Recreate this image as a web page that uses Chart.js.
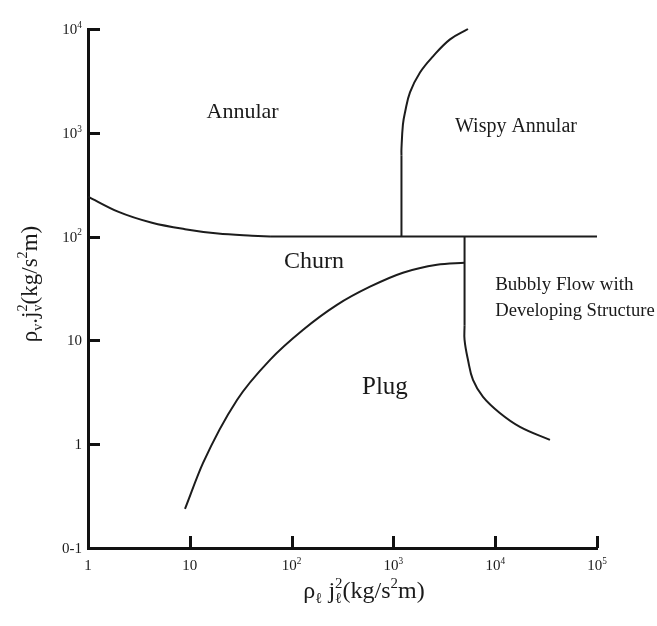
<!DOCTYPE html>
<html>
<head>
<meta charset="utf-8">
<script src="https://cdn.jsdelivr.net/npm/chart.js@4"></script>
<style>
  html, body { margin: 0; padding: 0; background: #fff; }
  #wrap { width: 657px; height: 626px; }
</style>
</head>
<body>
<div id="wrap"><canvas id="map" width="657" height="626"></canvas></div>
<script>
// --- flow regime boundaries ---
const annularChurnX = [1, 1.97, 4.25, 8.97, 18.9, 40.8, 61.4];
const annularChurnY = [243, 174, 136, 118, 107, 102, 100];

const churnTopX = [61.4, 100000];
const churnTopY = [100, 100];

const wispyStemX = [1200, 1200];
const wispyStemY = [100, 600];
const wispyX = [1200, 1200, 1240, 1300, 1455, 1825, 2450, 3600, 5400];
const wispyY = [600, 700, 1200, 1570, 2450, 3810, 5450, 7950, 10000];

const churnPlugX = [8.97, 13.5, 29.1, 61.4, 129, 279, 589, 1240, 2680, 5000];
const churnPlugY = [0.238, 0.66, 2.67, 6.5, 12.6, 22.0, 32.9, 44.9, 53.6, 56];

const bubblyStemX = [5000, 5000];
const bubblyStemY = [100, 14];
const bubblyX = [5000, 5000, 5400, 6050, 7590, 11100, 17500, 34500];
const bubblyY = [14, 10.1, 6.5, 4.17, 2.86, 2.0, 1.47, 1.1];

// --- axes ---
const xTicks = [1, 10, 100, 1000, 10000, 100000];
const xTickLabels = ['1', '10', '10^2', '10^3', '10^4', '10^5'];
const yTicks = [0.1, 1, 10, 100, 1000, 10000];
const yTickLabels = ['0-1', '1', '10', '10^2', '10^3', '10^4'];

// --- region names ---
const regionNames = ['Annular', 'Wispy Annular', 'Churn', 'Plug', 'Bubbly Flow with', 'Developing Structure'];
const regionX = [33, 16000, 166, 826, 10000, 10000];
const regionY = [1570, 1150, 57, 3.5, 34, 19.3];

const SERIF = "'Liberation Serif', 'Times New Roman', serif";
const LINE = '#1c1c1c';

const toPoints = (xs, ys) => xs.map((x, i) => ({ x, y: ys[i] }));

const curve = (xs, ys, tension, mode) => ({
    data: toPoints(xs, ys),
    showLine: true,
    borderColor: LINE,
    borderWidth: 2,
    pointRadius: 0,
    tension: tension,
    cubicInterpolationMode: mode || 'default',
    clip: 4,
});

// texte mit hoch-/tiefgestellten Teilen: [text, 'n'|'sub'|'sup'|'both', sup]
function richWidth(ctx, parts, size) {
    let w = 0;
    parts.forEach(p => {
        if (p[1] === 'n') { ctx.font = `${size}px ${SERIF}`; w += ctx.measureText(p[0]).width; }
        else if (p[1] === 'both') {
            ctx.font = `${size * 0.62}px ${SERIF}`;
            w += Math.max(ctx.measureText(p[0]).width, ctx.measureText(p[2]).width);
        } else { ctx.font = `${size * 0.62}px ${SERIF}`; w += ctx.measureText(p[0]).width; }
    });
    return w;
}

function drawRich(ctx, parts, x, y, size, align) {
    const w = richWidth(ctx, parts, size);
    let cx = align === 'center' ? x - w / 2 : align === 'right' ? x - w : x;
    ctx.textAlign = 'left';
    ctx.textBaseline = 'alphabetic';
    parts.forEach(p => {
        if (p[1] === 'n') {
            ctx.font = `${size}px ${SERIF}`;
            ctx.fillText(p[0], cx, y);
            cx += ctx.measureText(p[0]).width;
            return;
        }
        ctx.font = `${size * 0.62}px ${SERIF}`;
        if (p[1] === 'sup') {
            ctx.fillText(p[0], cx, y - size * 0.42);
            cx += ctx.measureText(p[0]).width;
        } else if (p[1] === 'sub') {
            ctx.fillText(p[0], cx, y + size * 0.22);
            cx += ctx.measureText(p[0]).width;
        } else {
            ctx.fillText(p[0], cx, y + size * 0.22);
            ctx.fillText(p[2], cx, y - size * 0.42);
            cx += Math.max(ctx.measureText(p[0]).width, ctx.measureText(p[2]).width);
        }
    });
}

const powerParts = label => {
    const [base, exp] = label.split('^');
    return exp ? [[base, 'n'], [exp, 'sup']] : [[base, 'n']];
};

const X_TITLE = [['ρ', 'n'], ['ℓ', 'sub'], [' j', 'n'], ['ℓ', 'both', '2'], ['(kg/s', 'n'], ['2', 'sup'], ['m)', 'n']];
const Y_TITLE = [['ρ', 'n'], ['v', 'sub'], ['.j', 'n'], ['v', 'both', '2'], ['(kg/s', 'n'], ['2', 'sup'], ['m)', 'n']];

const mapDecor = {
    id: 'mapDecor',
    afterDraw(chart) {
        const { ctx, scales: { x, y } } = chart;
        const left = x.left, bottom = y.bottom;
        ctx.save();
        ctx.fillStyle = '#1a1a1a';
        ctx.strokeStyle = '#111';
        ctx.lineWidth = 3;

        // nach innen zeigende Striche
        yTicks.forEach(v => {
            const py = Math.round(y.getPixelForValue(v)) + 0.5;
            ctx.beginPath(); ctx.moveTo(left, py); ctx.lineTo(left + 12, py); ctx.stroke();
        });
        xTicks.forEach(v => {
            const px = Math.round(x.getPixelForValue(v)) + 0.5;
            ctx.beginPath(); ctx.moveTo(px, bottom); ctx.lineTo(px, bottom - 12); ctx.stroke();
        });

        // Achsenbeschriftung
        yTicks.forEach((v, i) => {
            drawRich(ctx, powerParts(yTickLabels[i]), left - 6, y.getPixelForValue(v) + 5, 15, 'right');
        });
        xTicks.forEach((v, i) => {
            drawRich(ctx, powerParts(xTickLabels[i]), x.getPixelForValue(v), bottom + 22, 15, 'center');
        });

        // Gebietsnamen
        const sizes = [22, 20, 24, 25, 19, 18.6];
        regionNames.forEach((name, i) => {
            ctx.font = `${sizes[i]}px ${SERIF}`;
            ctx.textAlign = i >= 4 ? 'left' : 'center';
            ctx.textBaseline = 'middle';
            ctx.fillText(name, x.getPixelForValue(regionX[i]), y.getPixelForValue(regionY[i]));
        });

        // Titel
        drawRich(ctx, X_TITLE, 364, 598, 24, 'center');
        ctx.translate(37, 284);
        ctx.rotate(-Math.PI / 2);
        drawRich(ctx, Y_TITLE, 0, 0, 23, 'center');
        ctx.restore();
    }
};

const axisBase = {
    type: 'logarithmic',
    grid: { display: false, drawTicks: false, tickLength: 0 },
    ticks: { display: false },
    border: { display: true, color: '#111', width: 3 },
};

new Chart(document.getElementById('map'), {
    type: 'scatter',
    data: {
        datasets: [
            curve(annularChurnX, annularChurnY, 0.4, 'monotone'),
            curve(churnTopX, churnTopY, 0),
            curve(wispyStemX, wispyStemY, 0),
            curve(wispyX, wispyY, 0.4),
            curve(churnPlugX, churnPlugY, 0.4, 'monotone'),
            curve(bubblyStemX, bubblyStemY, 0),
            curve(bubblyX, bubblyY, 0.4),
        ]
    },
    options: {
        responsive: false,
        animation: false,
        layout: { padding: { left: 88, right: 60, top: 29, bottom: 78 } },
        scales: {
            x: { ...axisBase, min: 1, max: 100000 },
            y: { ...axisBase, min: 0.1, max: 10000 },
        },
        plugins: {
            legend: { display: false },
            tooltip: { enabled: false },
        }
    },
    plugins: [mapDecor]
});
</script>
</body>
</html>
